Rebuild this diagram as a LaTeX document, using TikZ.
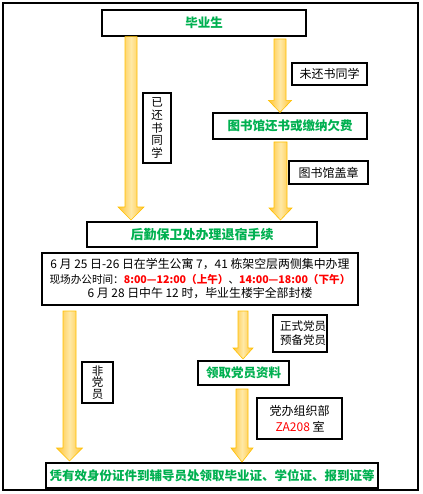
\documentclass[tikz,border=0pt]{standalone}
\usepackage{fontspec}
\setmainfont{Noto Sans CJK SC}
\usetikzlibrary{calc}
\definecolor{tgreen}{HTML}{00B050}
\definecolor{tred}{HTML}{FF0000}
\definecolor{arrE}{HTML}{FFC233}
\definecolor{arrL}{HTML}{FFE9A6}
\definecolor{arrD}{HTML}{FFC000}
\newcommand\blockarrow[5]{%
  \path let \p1=(#1), \p2=(#2) in
    [draw=arrD, line width=0.6pt, left color=arrE, right color=arrE, middle color=arrL]
    (\x1-#3pt,\y1) -- (\x1+#3pt,\y1) -- (\x1+#3pt,\y2+#5pt) -- (\x1+#4pt,\y2+#5pt)
    -- (\x1,\y2) -- (\x1-#4pt,\y2+#5pt) -- (\x1-#3pt,\y2+#5pt) -- cycle;}
\begin{document}
\begin{tikzpicture}[x=1pt,y=-1pt,
  box/.style={draw, line width=1.2pt, inner sep=0pt, align=center},
  title/.style={font=\bfseries\fontsize{12.5}{14}\selectfont, text=tgreen},
  lbl/.style={font=\fontsize{12}{13}\selectfont},
  info/.style={font=\fontsize{11.9}{14.5}\selectfont}]
\useasboundingbox (0,0) rectangle (422,494);
\draw[line width=1.1pt] (3,3) rectangle (418,490);
% boxes
\node[box, title, minimum width=204pt, minimum height=26pt] (grad) at (204,23) {毕业生};
\node[box, minimum width=28pt, minimum height=70pt, font=\fontsize{11.5}{12.6}\selectfont] (ret) at (157,128) {已\\还\\书\\同\\学};
\node[box, lbl, minimum width=75pt, minimum height=22pt] (notret) at (329.5,74) {未还书同学};
\node[box, title, minimum width=154pt, minimum height=26pt] (lib) at (290,126) {图书馆还书或缴纳欠费};
\node[box, lbl, minimum width=79pt, minimum height=23pt] (stamp) at (328.5,172.5) {图书馆盖章};
\node[box, title, minimum width=230pt, minimum height=25pt, font=\bfseries\fontsize{13}{14}\selectfont] (hq) at (202,234.5) {后勤保卫处办理退宿手续};
\node[box, info, minimum width=316pt, minimum height=52pt] (inf) at (200,279) {%
  6 月 25 日-26 日在学生公寓 7，41 栋架空层两侧集中办理\\
  {\fontsize{10.6}{14.5}\selectfont 现场办公时间：{\bfseries\color{tred}8:00—12:00（上午）}、{\bfseries\color{tred}14:00—18:00（下午）}}\\
  6 月 28 日中午 12 时，毕业生楼宇全部封楼};
\node[box, minimum width=31pt, minimum height=41pt, font=\fontsize{11.5}{11.5}\selectfont] (nonp) at (97.5,382.5) {非\\党\\员};
\node[box, minimum width=54pt, minimum height=37pt, font=\fontsize{11.5}{14}\selectfont] (party) at (300,333.5) {\hspace*{6pt}正式党员\\\hspace*{6pt}预备党员};
\node[box, title, minimum width=91pt, minimum height=24pt] (data) at (243.5,373) {领取党员资料};
\node[box, minimum width=85pt, minimum height=41pt, font=\fontsize{12}{16}\selectfont, align=left] (org) at (299.5,418.5) {党办组织部\\\hspace*{6pt}{\color{tred}ZA208} 室};
\node[box, title, minimum width=332pt, minimum height=25pt] (fin) at (212,475.5) {凭有效身份证件到辅导员处领取毕业证、学位证、报到证等};
% arrow endpoints
\coordinate (a1s) at (grad.south -| 131,0); \coordinate (a1e) at (131,220);
\coordinate (a2s) at (280,39); \coordinate (a2e) at (lib.north -| 280,0);
\coordinate (a3s) at (280.5,142); \coordinate (a3e) at (280.5,220);
\coordinate (a4s) at (69.5,311); \coordinate (a4e) at (69.5,461);
\coordinate (a5s) at (243,311); \coordinate (a5e) at (243,359);
\coordinate (a6s) at (242,389); \coordinate (a6e) at (242,462);
\blockarrow{a1s}{a1e}{6}{13}{13}
\blockarrow{a2s}{a2e}{6}{11.5}{12}
\blockarrow{a3s}{a3e}{6.5}{11.5}{12}
\blockarrow{a4s}{a4e}{6.5}{13}{13}
\blockarrow{a5s}{a5e}{5}{10}{11}
\blockarrow{a6s}{a6e}{6}{11}{14}
\end{tikzpicture}
\end{document}
